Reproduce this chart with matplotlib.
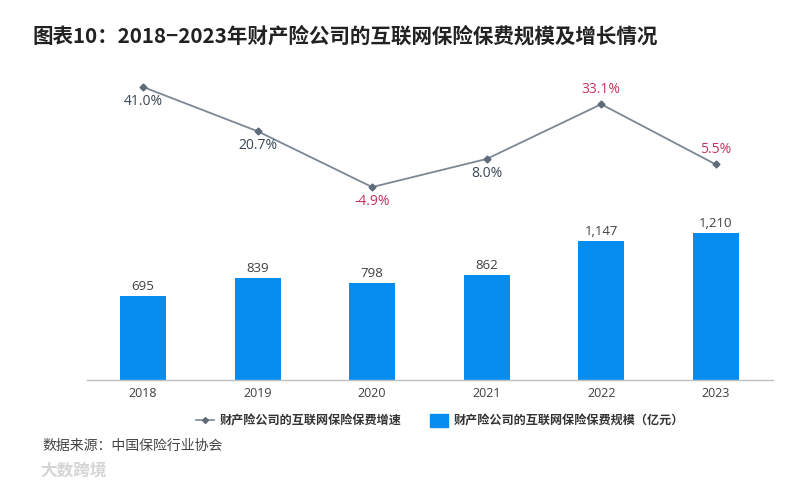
import matplotlib
matplotlib.use("Agg")
import matplotlib.pyplot as plt
from matplotlib.lines import Line2D
from matplotlib.patches import Patch

years = ["2018", "2019", "2020", "2021", "2022", "2023"]
premium = [695, 839, 798, 862, 1147, 1210]
premium_labels = ["695", "839", "798", "862", "1,147", "1,210"]
growth = [41.0, 20.7, -4.9, 8.0, 33.1, 5.5]
growth_labels = ["41.0%", "20.7%", "-4.9%", "8.0%", "33.1%", "5.5%"]
growth_label_above = [False, False, False, False, True, True]
growth_label_red = [False, False, True, False, True, True]

title = "图表10：2018−2023年财产险公司的互联网保险保费规模及增长情况"
legend_line = "财产险公司的互联网保险保费增速"
legend_bar = "财产险公司的互联网保险保费规模（亿元）"
source = "数据来源：中国保险行业协会"

CJK = ["Noto Sans CJK SC", "DejaVu Sans"]
NUM = ["Open Sans", "DejaVu Sans"]

W, H = 810, 490
fig = plt.figure(figsize=(W / 100, H / 100), dpi=100)
fig.patch.set_facecolor("white")

left, right, bottom, top = 87, 773, 380, 70
ax = fig.add_axes([left / W, 1 - bottom / H, (right - left) / W, (bottom - top) / H])
x = list(range(len(years)))
bar_color = "#078DEF"
ax.bar(x, premium, width=0.40, color=bar_color, zorder=2)
ax.set_xlim(-0.49, 5.5)
ax.set_ylim(0, (bottom - top) / 0.1215)
for i, (v, lab) in enumerate(zip(premium, premium_labels)):
    ax.annotate(lab, (i, v), xytext=(0, 2), textcoords="offset points",
                ha="center", va="bottom", fontsize=9.5, color="#404040", family=NUM)
for s in ["top", "right", "left"]:
    ax.spines[s].set_visible(False)
ax.spines["bottom"].set_color("#BFBFBF")
ax.spines["bottom"].set_linewidth(1.0)
ax.set_yticks([])
ax.set_xticks(x)
ax.set_xticklabels(years, family=NUM, fontsize=9, color="#404040")
ax.tick_params(axis="x", length=0, pad=5)

ax2 = ax.twinx()
ax2.set_ylim(-93.4, 48.8)
line_color = "#7B8794"
ax2.plot(x, growth, color=line_color, lw=1.3, marker="D", markersize=3.5,
         markerfacecolor="#5F6B78", markeredgecolor="#5F6B78", zorder=3)
for i, (v, lab) in enumerate(zip(growth, growth_labels)):
    col = "#C7335C" if growth_label_red[i] else "#3A4654"
    off = 10.5 if growth_label_above[i] else -10.5
    ax2.annotate(lab, (i, v), xytext=(0, off), textcoords="offset points",
                 ha="center", va="center", fontsize=10, color=col, family=NUM)
ax2.axis("off")

fig.text(32 / W, 1 - 36 / H, title, family=CJK, fontsize=14.8, fontweight="bold",
         color="#222222", ha="left", va="center")

handles = [Line2D([0], [0], color=line_color, lw=1.2, marker="D", markersize=3,
                  markerfacecolor="#5F6B78", markeredgecolor="#5F6B78"),
           Patch(facecolor=bar_color, edgecolor=bar_color)]
leg = fig.legend(handles, [legend_line, legend_bar], loc="center",
                 bbox_to_anchor=(440 / W, 1 - 421 / H), ncol=2, frameon=False,
                 prop={"family": CJK, "size": 8.7, "weight": "bold"},
                 handlelength=1.5, handleheight=1.3, handletextpad=0.5,
                 columnspacing=2.3)
for t in leg.get_texts():
    t.set_color("#333333")

fig.text(42 / W, 1 - 446 / H, source, family=CJK, fontsize=10, color="#444444",
         ha="left", va="center")
fig.text(40 / W, 1 - 470 / H, "大数跨境", family=CJK, fontsize=12, color="#D5D5D5",
         ha="left", va="center", fontweight="bold")

fig.savefig("out.png", dpi=100, facecolor="white")
